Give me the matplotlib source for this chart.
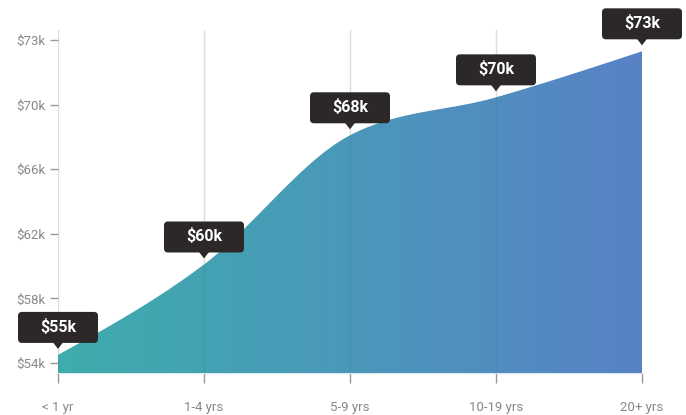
import numpy as np
import matplotlib
matplotlib.use("Agg")
import matplotlib.pyplot as plt
from matplotlib.colors import LinearSegmentedColormap
from matplotlib.patches import Polygon, FancyBboxPatch
from matplotlib.transforms import IdentityTransform, ScaledTranslation

plt.rcParams['font.family'] = ['Roboto', 'DejaVu Sans']

# data (salary in $k)
years = ['< 1 yr', '1-4 yrs', '5-9 yrs', '10-19 yrs', '20+ yrs']
salary = [54.5, 60.1, 68.1, 70.45, 73.3]
bubble_labels = ['$55k', '$60k', '$68k', '$70k', '$73k']
ytick_vals = [54, 58, 62, 66, 70, 74]
ytick_labels = ['$54k', '$58k', '$62k', '$66k', '$70k', '$73k']


def monotone_curve(x, y, n=40):
    # d3 style monotoneX curve, only for drawing the smooth shape
    x = np.asarray(x, float)
    y = np.asarray(y, float)
    h = np.diff(x)
    s = np.diff(y) / h
    t = np.zeros(len(x))
    for i in range(1, len(x) - 1):
        p = (s[i - 1] * h[i] + s[i] * h[i - 1]) / (h[i - 1] + h[i])
        t[i] = (np.sign(s[i - 1]) + np.sign(s[i])) * min(abs(s[i - 1]), abs(s[i]), 0.5 * abs(p))
    t[0] = (3 * s[0] - t[1]) / 2
    t[-1] = (3 * s[-1] - t[-2]) / 2
    xs, ys = [], []
    u = np.linspace(0, 1, n)
    for i in range(len(x) - 1):
        dx = h[i] / 3
        p0 = (x[i], y[i])
        p1 = (x[i] + dx, y[i] + dx * t[i])
        p2 = (x[i + 1] - dx, y[i + 1] - dx * t[i + 1])
        p3 = (x[i + 1], y[i + 1])
        bx = (1-u)**3*p0[0] + 3*(1-u)**2*u*p1[0] + 3*(1-u)*u**2*p2[0] + u**3*p3[0]
        by = (1-u)**3*p0[1] + 3*(1-u)**2*u*p1[1] + 3*(1-u)*u**2*p2[1] + u**3*p3[1]
        xs.extend(bx)
        ys.extend(by)
    return np.array(xs), np.array(ys)


fig = plt.figure(figsize=(6.86, 4.15), dpi=100)
ax = fig.add_axes([58 / 686, 42 / 415, 584 / 686, 343 / 415])

xpos = np.arange(len(years))
ymin, ymax = 53.38, 74.62

cx, cy = monotone_curve(xpos, salary)
verts = [(xpos[0], ymin)] + list(zip(cx, cy)) + [(xpos[-1], ymin)]
poly = Polygon(verts, closed=True, facecolor='none', edgecolor='none')
ax.add_patch(poly)

cmap = LinearSegmentedColormap.from_list('sal', ['#3eacac', '#4a98b9', '#5882c7'])
grad = np.linspace(0, 1, 256).reshape(1, -1)
im = ax.imshow(grad, extent=(xpos[0], xpos[-1], ymin, ymax), aspect='auto',
               cmap=cmap, origin='lower', zorder=1)
im.set_clip_path(poly)

# grid: light grey behind, very faint trace over the area
for xp in xpos:
    ax.axvline(xp, color='#e6e6e6', lw=1, zorder=0)
    ax.axvline(xp, color='black', alpha=0.04, lw=1, zorder=2)

ax.set_xlim(xpos[0], xpos[-1])
ax.set_ylim(ymin, ymax)
ax.set_xticks(xpos)
ax.set_xticklabels(years)
ax.set_yticks(ytick_vals)
ax.set_yticklabels(ytick_labels)
for sp in ['top', 'right', 'left']:
    ax.spines[sp].set_visible(False)
ax.spines['bottom'].set_color('#d6e6ec')
ax.spines['bottom'].set_zorder(3)
ax.tick_params(axis='y', length=6, width=1, color='#999999', labelcolor='#888888',
               labelsize=9.5, pad=3)
ax.tick_params(axis='x', length=7, width=1, color='#999999', labelcolor='#888888',
               labelsize=9.5, pad=13)

# value bubbles, sized in pixels relative to each point
for xp, v, lab in zip(xpos, salary, bubble_labels):
    tr = IdentityTransform() + ScaledTranslation(xp, v, ax.transData)
    box = FancyBboxPatch((-40, 12), 80, 31, boxstyle='round,pad=0,rounding_size=4',
                         facecolor='#2b2827', edgecolor='none', transform=tr,
                         clip_on=False, zorder=5)
    ax.add_artist(box)
    tri = Polygon([(-5, 12.5), (5, 12.5), (0, 6)], closed=True, facecolor='#2b2827',
                  edgecolor='none', transform=tr, clip_on=False, zorder=5)
    ax.add_artist(tri)
    ax.text(0, 28, lab, transform=tr, ha='center', va='center', color='white',
            fontsize=11.5, fontweight='bold', clip_on=False, zorder=6)

fig.savefig('out.png', dpi=100)
